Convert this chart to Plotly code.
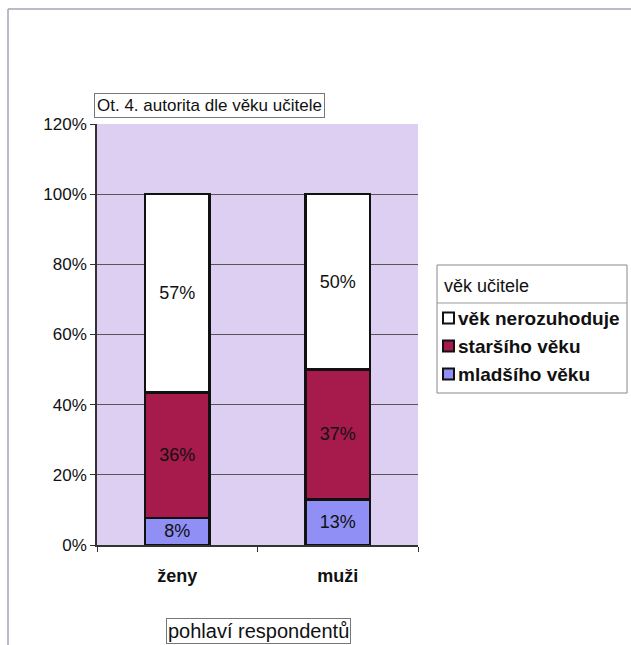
import plotly.graph_objects as go

# Respondent groups and answer shares (%)
categories = ["ženy", "muži"]
mladsiho = [7.7, 13.0]
starsiho = [35.7, 37.0]
nerozhoduje = [56.6, 50.0]

legend_labels = ["mladšího věku", "staršího věku", "věk nerozuhoduje"]
series_colors = ["#8f8ff5", "#a61a4c", "#ffffff"]

y_ticks = [0, 20, 40, 60, 80, 100, 120]
y_tick_labels = ["0%", "20%", "40%", "60%", "80%", "100%", "120%"]

FONT = "Arial, Liberation Sans, sans-serif"
INK = "#111111"

W, H = 631, 645
L, R, T, B = 97, 418, 124, 545  # plot area in pixels


def px_x(px):
    return (px - L) / (R - L)


def px_y(py):
    return (B - py) / (B - T)


fig = go.Figure()
for vals, name, color in zip([mladsiho, starsiho, nerozhoduje], legend_labels, series_colors):
    fig.add_trace(go.Bar(
        x=categories,
        y=vals,
        name=name,
        marker=dict(color=color, line=dict(color=INK, width=2.5)),
        texttemplate="%{y:.0f}%",
        textposition="inside",
        insidetextanchor="middle",
        textfont=dict(family=FONT, size=18, color=INK),
        constraintext="none",
        hoverinfo="skip",
        showlegend=False,
    ))

# Legend drawn as a framed box: title, separator, then swatches top to bottom
LEG_X0, LEG_X1, LEG_Y0, LEG_Y1 = 437, 627, 265, 393
shapes = [
    # outer chart frame (left and top edges)
    dict(type="line", xref="paper", yref="paper",
         x0=px_x(8), y0=px_y(9), x1=px_x(640), y1=px_y(9),
         line=dict(color="#a8a0b8", width=1.5)),
    dict(type="line", xref="paper", yref="paper",
         x0=px_x(8), y0=px_y(9), x1=px_x(8), y1=px_y(660),
         line=dict(color="#a8a0b8", width=1.5)),
    # legend frame
    dict(type="rect", xref="paper", yref="paper",
         x0=px_x(LEG_X0), x1=px_x(LEG_X1), y0=px_y(LEG_Y0), y1=px_y(LEG_Y1),
         fillcolor="#ffffff", line=dict(color="#888888", width=1), layer="above"),
    # separator under the legend title
    dict(type="line", xref="paper", yref="paper",
         x0=px_x(LEG_X0), y0=px_y(303), x1=px_x(LEG_X1), y1=px_y(303),
         line=dict(color="#999999", width=1), layer="above"),
]

annotations = [
    dict(
        text="Ot. 4. autorita dle věku učitele",
        xref="paper", yref="paper",
        x=px_x(94), y=px_y(105),
        xanchor="left", yanchor="middle",
        showarrow=False,
        font=dict(family=FONT, size=17, color=INK),
        bgcolor="#ffffff",
        bordercolor="#777777",
        borderwidth=1,
        borderpad=2,
    ),
    dict(
        text="pohlaví respondentů",
        xref="paper", yref="paper",
        x=px_x(258), y=px_y(631),
        xanchor="center", yanchor="middle",
        showarrow=False,
        font=dict(family=FONT, size=20, color=INK),
        bgcolor="#ffffff",
        bordercolor="#777777",
        borderwidth=1,
        borderpad=1,
    ),
    dict(
        text="věk učitele",
        xref="paper", yref="paper",
        x=px_x(442), y=px_y(286),
        xanchor="left", yanchor="middle",
        showarrow=False,
        font=dict(family=FONT, size=18, color=INK),
    ),
]

legend_rows_y = [318, 346, 374]
for row_y, name, color in zip(legend_rows_y, legend_labels[::-1], series_colors[::-1]):
    shapes.append(dict(
        type="rect", xref="paper", yref="paper",
        x0=px_x(443), x1=px_x(454), y0=px_y(row_y - 5.5), y1=px_y(row_y + 5.5),
        fillcolor=color, line=dict(color=INK, width=2), layer="above",
    ))
    annotations.append(dict(
        text="<b>%s</b>" % name,
        xref="paper", yref="paper",
        x=px_x(456), y=px_y(row_y),
        xanchor="left", yanchor="middle",
        showarrow=False,
        font=dict(family=FONT, size=19, color=INK),
    ))

fig.update_layout(
    width=W,
    height=H,
    margin=dict(l=L, r=W - R, t=T, b=H - B, pad=0),
    barmode="stack",
    bargap=0.6,
    paper_bgcolor="#ffffff",
    plot_bgcolor="#dccff2",
    font=dict(family=FONT, size=16, color=INK),
    showlegend=False,
    xaxis=dict(
        type="category",
        showgrid=False,
        showline=True,
        linecolor="#333333",
        linewidth=1.5,
        ticks="outside",
        tickson="boundaries",
        ticklen=5,
        tickcolor="#333333",
        ticklabelstandoff=14,
        tickfont=dict(family=FONT, size=18, color=INK, weight="bold"),
        fixedrange=True,
    ),
    yaxis=dict(
        range=[0, 120],
        tickvals=y_ticks,
        ticktext=y_tick_labels,
        showgrid=True,
        gridcolor="#555555",
        gridwidth=1,
        zeroline=False,
        showline=True,
        linecolor="#333333",
        linewidth=1.5,
        ticks="outside",
        ticklen=5,
        tickcolor="#333333",
        ticklabelstandoff=0,
        tickfont=dict(family=FONT, size=17, color=INK),
        fixedrange=True,
    ),
    annotations=annotations,
    shapes=shapes,
)

fig.write_html("out.html")
